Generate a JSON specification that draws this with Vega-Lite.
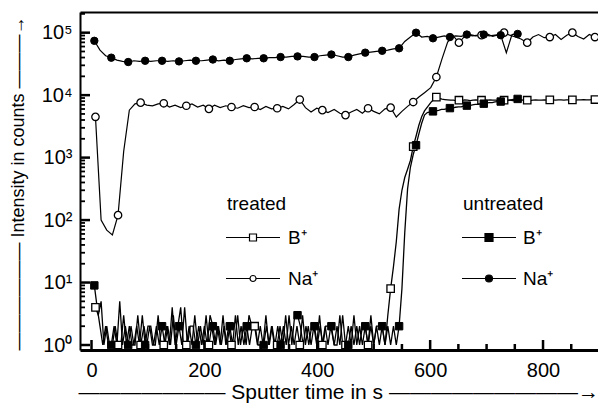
{
"$schema": "https://vega.github.io/schema/vega-lite/v6.json",
"width": 518, "height": 338, "autosize": "none",
"padding": {"left": 80, "top": 12, "right": 0, "bottom": 53},
"background": "white",
"config": {"view": {"stroke": null}, "font": "Liberation Sans",
 "legend": {"orient": "none", "padding": 0, "titleFontSize": 19, "titleFontWeight": "normal", "titleColor": "black", "titleFont": "Liberation Sans", "titlePadding": 14, "labelFontSize": 19, "labelFont": "Liberation Sans", "labelColor": "black", "symbolSize": 100, "symbolStrokeWidth": 1.2, "symbolStrokeColor": "black"}},
"datasets": {
"xMajor": [{"t":0},{"t":200},{"t":400},{"t":600},{"t":800}],
"xMinor": [{"t":50},{"t":100},{"t":150},{"t":250},{"t":300},{"t":350},{"t":450},{"t":500},{"t":550},{"t":650},{"t":700},{"t":750},{"t":850}],
"yMajor": [{"v":1},{"v":10},{"v":100},{"v":1000},{"v":10000},{"v":100000}],
"yMinor": [{"v":2},{"v":3},{"v":4},{"v":5},{"v":6},{"v":7},{"v":8},{"v":9},{"v":20},{"v":30},{"v":40},{"v":50},{"v":60},{"v":70},{"v":80},{"v":90},{"v":200},{"v":300},{"v":400},{"v":500},{"v":600},{"v":700},{"v":800},{"v":900},{"v":2000},{"v":3000},{"v":4000},{"v":5000},{"v":6000},{"v":7000},{"v":8000},{"v":9000},{"v":20000},{"v":30000},{"v":40000},{"v":50000},{"v":60000},{"v":70000},{"v":80000},{"v":90000},{"v":200000}],
"tNa": [{"t":7,"v":4500},{"t":17,"v":100},{"t":27,"v":69},{"t":37,"v":58},{"t":47,"v":120},{"t":57,"v":1260},{"t":67,"v":5750},{"t":77,"v":7240},{"t":87,"v":7590},{"t":98,"v":6920},{"t":108,"v":6760},{"t":118,"v":7240},{"t":128,"v":7410},{"t":138,"v":6460},{"t":148,"v":6920},{"t":158,"v":6310},{"t":168,"v":6760},{"t":178,"v":7240},{"t":188,"v":6460},{"t":198,"v":6920},{"t":208,"v":6030},{"t":218,"v":6920},{"t":228,"v":6310},{"t":238,"v":6760},{"t":248,"v":6460},{"t":259,"v":6170},{"t":269,"v":6760},{"t":279,"v":6310},{"t":289,"v":6460},{"t":299,"v":5890},{"t":309,"v":6610},{"t":319,"v":6030},{"t":329,"v":6170},{"t":339,"v":6610},{"t":349,"v":6030},{"t":359,"v":7080},{"t":369,"v":8510},{"t":379,"v":6310},{"t":389,"v":5370},{"t":399,"v":6170},{"t":409,"v":5750},{"t":419,"v":5250},{"t":430,"v":5890},{"t":440,"v":5130},{"t":450,"v":4790},{"t":460,"v":5370},{"t":470,"v":5890},{"t":480,"v":5130},{"t":490,"v":6170},{"t":500,"v":5500},{"t":510,"v":5010},{"t":520,"v":6030},{"t":530,"v":6310},{"t":540,"v":4470},{"t":550,"v":5500},{"t":560,"v":6610},{"t":570,"v":7760},{"t":580,"v":9330},{"t":590,"v":10960},{"t":601,"v":13180},{"t":611,"v":19500},{"t":621,"v":38000},{"t":631,"v":70800},{"t":641,"v":89100},{"t":651,"v":69200},{"t":661,"v":87100},{"t":671,"v":93300},{"t":681,"v":89100},{"t":691,"v":91200},{"t":701,"v":95500},{"t":711,"v":87100},{"t":721,"v":93300},{"t":731,"v":100000},{"t":741,"v":91200},{"t":751,"v":85100},{"t":761,"v":79400},{"t":772,"v":69200},{"t":782,"v":85100},{"t":792,"v":93300},{"t":802,"v":83200},{"t":812,"v":85100},{"t":822,"v":93300},{"t":832,"v":77600},{"t":842,"v":91200},{"t":852,"v":100000},{"t":862,"v":87100},{"t":872,"v":79400},{"t":882,"v":93300},{"t":892,"v":85100},{"t":902,"v":91200}],
"tB": [{"t":7,"v":4},{"t":12,"v":3},{"t":17,"v":5},{"t":22,"v":1},{"t":27,"v":2},{"t":32,"v":1},{"t":37,"v":1},{"t":42,"v":2},{"t":47,"v":1},{"t":52,"v":1},{"t":57,"v":3},{"t":62,"v":1},{"t":67,"v":2},{"t":72,"v":1},{"t":77,"v":1},{"t":82,"v":3},{"t":87,"v":1},{"t":93,"v":2},{"t":98,"v":1},{"t":103,"v":2},{"t":108,"v":1},{"t":113,"v":1},{"t":118,"v":3},{"t":123,"v":1},{"t":128,"v":1},{"t":133,"v":2},{"t":138,"v":1},{"t":143,"v":4},{"t":148,"v":1},{"t":153,"v":2},{"t":158,"v":4},{"t":163,"v":1},{"t":168,"v":1},{"t":173,"v":2},{"t":178,"v":1},{"t":183,"v":3},{"t":188,"v":1},{"t":193,"v":2},{"t":198,"v":1},{"t":203,"v":3},{"t":208,"v":1},{"t":213,"v":2},{"t":218,"v":1},{"t":223,"v":2},{"t":228,"v":1},{"t":233,"v":3},{"t":238,"v":1},{"t":243,"v":2},{"t":248,"v":1},{"t":253,"v":1},{"t":259,"v":3},{"t":264,"v":1},{"t":269,"v":2},{"t":274,"v":1},{"t":279,"v":3},{"t":284,"v":2},{"t":289,"v":2},{"t":294,"v":1},{"t":299,"v":2},{"t":304,"v":1},{"t":309,"v":3},{"t":314,"v":1},{"t":319,"v":2},{"t":324,"v":1},{"t":329,"v":1},{"t":334,"v":2},{"t":339,"v":1},{"t":344,"v":3},{"t":349,"v":1},{"t":354,"v":2},{"t":359,"v":1},{"t":364,"v":2},{"t":369,"v":1},{"t":374,"v":3},{"t":379,"v":1},{"t":384,"v":2},{"t":389,"v":1},{"t":394,"v":2},{"t":399,"v":1},{"t":404,"v":3},{"t":409,"v":1},{"t":414,"v":2},{"t":419,"v":1},{"t":424,"v":2},{"t":430,"v":1},{"t":435,"v":1},{"t":440,"v":3},{"t":445,"v":1},{"t":450,"v":1},{"t":455,"v":2},{"t":460,"v":1},{"t":465,"v":3},{"t":470,"v":1},{"t":475,"v":2},{"t":480,"v":1},{"t":485,"v":2},{"t":490,"v":1},{"t":495,"v":3},{"t":500,"v":1},{"t":505,"v":2},{"t":510,"v":1},{"t":515,"v":2},{"t":520,"v":1},{"t":525,"v":3},{"t":530,"v":8},{"t":535,"v":18},{"t":540,"v":45},{"t":545,"v":150},{"t":550,"v":300},{"t":555,"v":480},{"t":560,"v":650},{"t":565,"v":900},{"t":570,"v":1500},{"t":575,"v":2200},{"t":580,"v":3300},{"t":585,"v":4500},{"t":590,"v":5600},{"t":596,"v":6600},{"t":601,"v":7600},{"t":606,"v":8500},{"t":611,"v":9300},{"t":616,"v":8900},{"t":621,"v":8600},{"t":626,"v":8500},{"t":631,"v":8400},{"t":636,"v":8300},{"t":641,"v":8300},{"t":646,"v":8200},{"t":651,"v":8300},{"t":656,"v":8200},{"t":661,"v":8400},{"t":666,"v":8300},{"t":671,"v":8200},{"t":676,"v":8300},{"t":681,"v":8400},{"t":686,"v":8300},{"t":691,"v":8300},{"t":696,"v":8200},{"t":701,"v":8300},{"t":706,"v":8400},{"t":711,"v":8300},{"t":716,"v":8300},{"t":721,"v":8200},{"t":726,"v":8300},{"t":731,"v":8300},{"t":736,"v":8400},{"t":741,"v":8300},{"t":746,"v":8200},{"t":751,"v":8300},{"t":756,"v":8300},{"t":761,"v":8400},{"t":767,"v":8300},{"t":772,"v":8300},{"t":777,"v":8200},{"t":782,"v":8300},{"t":787,"v":8400},{"t":792,"v":8300},{"t":797,"v":8300},{"t":802,"v":8400},{"t":807,"v":8300},{"t":812,"v":8400},{"t":817,"v":8400},{"t":822,"v":8300},{"t":827,"v":8400},{"t":832,"v":8400},{"t":837,"v":8300},{"t":842,"v":8400},{"t":847,"v":8400},{"t":852,"v":8400},{"t":857,"v":8300},{"t":862,"v":8400},{"t":867,"v":8400},{"t":872,"v":8500},{"t":877,"v":8400},{"t":882,"v":8400},{"t":887,"v":8500},{"t":892,"v":8500},{"t":897,"v":8400},{"t":902,"v":8500}],
"uNa": [{"t":5,"v":74100},{"t":15,"v":52500},{"t":25,"v":42700},{"t":35,"v":39800},{"t":45,"v":36300},{"t":55,"v":34700},{"t":65,"v":33900},{"t":75,"v":35500},{"t":85,"v":34700},{"t":95,"v":35500},{"t":105,"v":34700},{"t":115,"v":35500},{"t":125,"v":35500},{"t":135,"v":34700},{"t":145,"v":35500},{"t":155,"v":34700},{"t":165,"v":35500},{"t":175,"v":36300},{"t":185,"v":35500},{"t":195,"v":35500},{"t":205,"v":36300},{"t":215,"v":37200},{"t":225,"v":35500},{"t":235,"v":36300},{"t":245,"v":35500},{"t":255,"v":37200},{"t":265,"v":38000},{"t":275,"v":38900},{"t":285,"v":38000},{"t":295,"v":38900},{"t":305,"v":38900},{"t":315,"v":39800},{"t":325,"v":39800},{"t":335,"v":40700},{"t":345,"v":40700},{"t":355,"v":41700},{"t":365,"v":41700},{"t":375,"v":41700},{"t":385,"v":40700},{"t":395,"v":40700},{"t":405,"v":42700},{"t":415,"v":43700},{"t":425,"v":44700},{"t":435,"v":42700},{"t":445,"v":40700},{"t":455,"v":40700},{"t":465,"v":43700},{"t":475,"v":45700},{"t":485,"v":47900},{"t":495,"v":49000},{"t":505,"v":50100},{"t":515,"v":51300},{"t":525,"v":52500},{"t":535,"v":55000},{"t":545,"v":56200},{"t":555,"v":72400},{"t":565,"v":85100},{"t":575,"v":100000},{"t":585,"v":85100},{"t":595,"v":87100},{"t":605,"v":81300},{"t":615,"v":85100},{"t":625,"v":89100},{"t":635,"v":85100},{"t":645,"v":89100},{"t":655,"v":87100},{"t":665,"v":93300},{"t":675,"v":89100},{"t":685,"v":91200},{"t":695,"v":93300},{"t":705,"v":89100},{"t":715,"v":91200},{"t":725,"v":91200},{"t":735,"v":47900},{"t":745,"v":93300},{"t":755,"v":95500}],
"uB": [{"t":5,"v":9},{"t":10,"v":4},{"t":15,"v":2},{"t":20,"v":1},{"t":25,"v":2},{"t":30,"v":1},{"t":35,"v":1},{"t":40,"v":2},{"t":45,"v":1},{"t":50,"v":5},{"t":55,"v":1},{"t":60,"v":2},{"t":65,"v":1},{"t":70,"v":2},{"t":75,"v":1},{"t":80,"v":2},{"t":85,"v":1},{"t":90,"v":3},{"t":95,"v":1},{"t":100,"v":2},{"t":105,"v":2},{"t":110,"v":1},{"t":115,"v":2},{"t":120,"v":1},{"t":125,"v":2},{"t":130,"v":1},{"t":135,"v":2},{"t":140,"v":1},{"t":145,"v":3},{"t":150,"v":1},{"t":155,"v":2},{"t":160,"v":1},{"t":165,"v":4},{"t":170,"v":1},{"t":175,"v":2},{"t":180,"v":2},{"t":185,"v":1},{"t":190,"v":2},{"t":195,"v":1},{"t":200,"v":2},{"t":205,"v":1},{"t":210,"v":3},{"t":215,"v":2},{"t":220,"v":1},{"t":225,"v":2},{"t":230,"v":1},{"t":235,"v":2},{"t":240,"v":1},{"t":245,"v":2},{"t":250,"v":1},{"t":255,"v":3},{"t":260,"v":1},{"t":265,"v":2},{"t":270,"v":1},{"t":275,"v":2},{"t":280,"v":1},{"t":285,"v":2},{"t":290,"v":2},{"t":295,"v":1},{"t":300,"v":1},{"t":305,"v":1},{"t":310,"v":2},{"t":315,"v":1},{"t":320,"v":2},{"t":325,"v":1},{"t":330,"v":2},{"t":335,"v":1},{"t":340,"v":2},{"t":345,"v":1},{"t":350,"v":3},{"t":355,"v":1},{"t":360,"v":3},{"t":365,"v":3},{"t":370,"v":2},{"t":375,"v":1},{"t":380,"v":2},{"t":385,"v":1},{"t":390,"v":2},{"t":395,"v":2},{"t":400,"v":1},{"t":405,"v":2},{"t":410,"v":1},{"t":415,"v":2},{"t":420,"v":2},{"t":425,"v":2},{"t":430,"v":1},{"t":435,"v":2},{"t":440,"v":1},{"t":445,"v":3},{"t":450,"v":1},{"t":455,"v":1},{"t":460,"v":2},{"t":465,"v":1},{"t":470,"v":2},{"t":475,"v":1},{"t":480,"v":2},{"t":485,"v":2},{"t":490,"v":1},{"t":495,"v":2},{"t":500,"v":1},{"t":505,"v":2},{"t":510,"v":2},{"t":515,"v":2},{"t":520,"v":1},{"t":525,"v":2},{"t":530,"v":1},{"t":535,"v":2},{"t":540,"v":1},{"t":545,"v":2},{"t":550,"v":8},{"t":555,"v":63},{"t":560,"v":316},{"t":565,"v":700},{"t":570,"v":1120},{"t":575,"v":1580},{"t":580,"v":2400},{"t":585,"v":3550},{"t":590,"v":4800},{"t":595,"v":5250},{"t":600,"v":5400},{"t":605,"v":5500},{"t":610,"v":5600},{"t":615,"v":5700},{"t":620,"v":5900},{"t":625,"v":5900},{"t":630,"v":6100},{"t":635,"v":6200},{"t":640,"v":6200},{"t":645,"v":6400},{"t":650,"v":6500},{"t":655,"v":6500},{"t":660,"v":6700},{"t":665,"v":6800},{"t":670,"v":6800},{"t":675,"v":7000},{"t":680,"v":7100},{"t":685,"v":7100},{"t":690,"v":7300},{"t":695,"v":7300},{"t":700,"v":7500},{"t":705,"v":7600},{"t":710,"v":7600},{"t":715,"v":7800},{"t":720,"v":7900},{"t":725,"v":7900},{"t":730,"v":8100},{"t":735,"v":8200},{"t":740,"v":8300},{"t":745,"v":8500},{"t":750,"v":8600},{"t":755,"v":8700}]
},
"layer": [
{"data": {"name": "tNa"}, "mark": {"type": "line", "color": "black", "strokeWidth": 1.2, "clip": true},
 "encoding": {
  "x": {"field": "t", "type": "quantitative", "scale": {"domain": [-20.4, 897.4], "nice": false, "zero": false},
   "axis": {"orient": "bottom", "values": [0,200,400,600,800], "ticks": false, "grid": false, "domain": false,
    "labelFontSize": 20, "labelColor": "black", "labelFont": "Liberation Sans", "labelPadding": 10, "labelOverlap": false,
    "title": "——————— Sputter time in s —————————→", "titleFontSize": 21, "titleFontWeight": "normal", "titleColor": "black", "titleFont": "Liberation Sans",
    "titleAnchor": "start", "titleAlign": "left", "titleX": -2, "titleY": 42, "titleBaseline": "middle"}},
  "y": {"field": "v", "type": "quantitative", "scale": {"type": "log", "domain": [0.832, 214300], "nice": false},
   "axis": {"orient": "left", "values": [1,10,100,1000,10000,100000], "ticks": false, "grid": false, "domain": false,
    "labelExpr": "'10' + ['⁰','¹','²','³','⁴','⁵'][round(log(datum.value)/LN10)]",
    "labelFontSize": 20, "labelColor": "black", "labelFont": "Liberation Sans", "labelPadding": 8, "labelOverlap": false,
    "title": "—————— Intensity in counts ———→", "titleFontSize": 18, "titleFontWeight": "normal", "titleColor": "black", "titleFont": "Liberation Sans",
    "titleAngle": 270, "titleAnchor": "start", "titleAlign": "left", "titleX": -62, "titleY": 338, "titleBaseline": "middle"}}}},
{"data": {"name": "tB"}, "mark": {"type": "line", "color": "black", "strokeWidth": 1.3, "clip": true},
 "encoding": {
  "x": {"field": "t", "type": "quantitative", "scale": {"domain": [-20.4, 897.4], "nice": false, "zero": false}, "axis": null},
  "y": {"field": "v", "type": "quantitative", "scale": {"type": "log", "domain": [0.832, 214300], "nice": false}, "axis": null}}},
{"data": {"name": "uNa"}, "mark": {"type": "line", "color": "black", "strokeWidth": 1.2, "clip": true},
 "encoding": {
  "x": {"field": "t", "type": "quantitative", "scale": {"domain": [-20.4, 897.4], "nice": false, "zero": false},
   "axis": {"orient": "top", "labels": false, "ticks": false, "domain": true, "domainColor": "black", "domainWidth": 2, "grid": false, "title": null}},
  "y": {"field": "v", "type": "quantitative", "scale": {"type": "log", "domain": [0.832, 214300], "nice": false},
   "axis": {"orient": "left", "labels": false, "ticks": false, "domain": true, "domainColor": "black", "domainWidth": 2, "grid": false, "title": null}}}},
{"data": {"name": "uB"}, "mark": {"type": "line", "color": "black", "strokeWidth": 1.3, "clip": true},
 "encoding": {
  "x": {"field": "t", "type": "quantitative", "scale": {"domain": [-20.4, 897.4], "nice": false, "zero": false},
   "axis": {"orient": "bottom", "labels": false, "ticks": false, "domain": true, "domainColor": "black", "domainWidth": 3, "grid": false, "title": null}},
  "y": {"field": "v", "type": "quantitative", "scale": {"type": "log", "domain": [0.832, 214300], "nice": false}, "axis": null}}},
{"data": {"name": "xMajor"}, "mark": {"type": "rule", "color": "black", "strokeWidth": 2.5, "clip": true},
 "encoding": {
  "x": {"field": "t", "type": "quantitative", "scale": {"domain": [-20.4, 897.4], "nice": false, "zero": false}, "axis": null},
  "y": {"datum": 0.832, "type": "quantitative", "scale": {"type": "log", "domain": [0.832, 214300], "nice": false}, "axis": null},
  "y2": {"datum": 1.203}}},
{"data": {"name": "xMinor"}, "mark": {"type": "rule", "color": "black", "strokeWidth": 2.5, "clip": true},
 "encoding": {
  "x": {"field": "t", "type": "quantitative", "scale": {"domain": [-20.4, 897.4], "nice": false, "zero": false}, "axis": null},
  "y": {"datum": 0.832, "type": "quantitative", "scale": {"type": "log", "domain": [0.832, 214300], "nice": false}, "axis": null},
  "y2": {"datum": 1.038}}},
{"data": {"name": "yMajor"}, "mark": {"type": "rule", "color": "black", "strokeWidth": 2.5, "clip": true},
 "encoding": {
  "y": {"field": "v", "type": "quantitative", "scale": {"type": "log", "domain": [0.832, 214300], "nice": false}, "axis": null},
  "x": {"datum": -20.4, "type": "quantitative", "scale": {"domain": [-20.4, 897.4], "nice": false, "zero": false}, "axis": null},
  "x2": {"datum": -2.7}}},
{"data": {"name": "yMinor"}, "mark": {"type": "rule", "color": "black", "strokeWidth": 1.8, "clip": true},
 "encoding": {
  "y": {"field": "v", "type": "quantitative", "scale": {"type": "log", "domain": [0.832, 214300], "nice": false}, "axis": null},
  "x": {"datum": -20.4, "type": "quantitative", "scale": {"domain": [-20.4, 897.4], "nice": false, "zero": false}, "axis": null},
  "x2": {"datum": -11.5}}},
{"data": {"name": "tB"}, "transform": [{"window": [{"op": "row_number", "as": "rn"}]}, {"filter": "(datum.rn - 1) % 8 === 0"}],
 "mark": {"type": "point", "shape": "square", "filled": true, "stroke": "black", "strokeWidth": 1.3, "size": 55, "opacity": 1, "clip": true},
 "encoding": {
  "x": {"field": "t", "type": "quantitative", "scale": {"domain": [-20.4, 897.4], "nice": false, "zero": false}, "axis": null},
  "y": {"field": "v", "type": "quantitative", "scale": {"type": "log", "domain": [0.832, 214300], "nice": false}, "axis": null},
  "fill": {"datum": "B⁺", "type": "nominal", "scale": {"domain": ["B⁺"], "range": ["white"]},
   "legend": {"title": "treated", "legendX": 147, "legendY": 183, "symbolOffset": 16.5, "labelOffset": 25.5,
    "symbolType": "M-5.4,0H-0.7M0.7,0H5.4M-0.7,-0.7H0.7V0.7H-0.7Z"}}}},
{"data": {"name": "tNa"}, "transform": [{"window": [{"op": "row_number", "as": "rn"}]}, {"filter": "(datum.rn - 1) % 4 === 0"}],
 "mark": {"type": "point", "shape": "circle", "filled": true, "stroke": "black", "strokeWidth": 1.3, "size": 55, "opacity": 1, "clip": true},
 "encoding": {
  "x": {"field": "t", "type": "quantitative", "scale": {"domain": [-20.4, 897.4], "nice": false, "zero": false}, "axis": null},
  "y": {"field": "v", "type": "quantitative", "scale": {"type": "log", "domain": [0.832, 214300], "nice": false}, "axis": null},
  "fill": {"datum": "Na⁺", "type": "nominal", "scale": {"domain": ["Na⁺"], "range": ["white"]},
   "legend": {"title": null, "legendX": 147, "legendY": 257, "symbolOffset": 16.5, "labelOffset": 25.5,
    "symbolType": "M-5.4,0H-0.6M0.6,0H5.4M-0.6,0A0.6,0.6,0,1,1,0.6,0A0.6,0.6,0,1,1,-0.6,0Z"}}}},
{"data": {"name": "uB"}, "transform": [{"window": [{"op": "row_number", "as": "rn"}]}, {"filter": "(datum.rn - 1) % 6 === 0"}],
 "mark": {"type": "point", "shape": "square", "filled": true, "stroke": "black", "strokeWidth": 1, "size": 55, "opacity": 1, "clip": true},
 "encoding": {
  "x": {"field": "t", "type": "quantitative", "scale": {"domain": [-20.4, 897.4], "nice": false, "zero": false}, "axis": null},
  "y": {"field": "v", "type": "quantitative", "scale": {"type": "log", "domain": [0.832, 214300], "nice": false}, "axis": null},
  "fill": {"datum": "B⁺", "type": "nominal", "scale": {"domain": ["B⁺"], "range": ["black"]},
   "legend": {"title": "untreated", "legendX": 383, "legendY": 183, "symbolOffset": 16.5, "labelOffset": 24.5,
    "symbolType": "M-5.4,0H-0.8M0.8,0H5.4M-0.8,-0.8H0.8V0.8H-0.8Z"}}}},
{"data": {"name": "uNa"}, "transform": [{"window": [{"op": "row_number", "as": "rn"}]}, {"filter": "(datum.rn - 1) % 3 === 0"}],
 "mark": {"type": "point", "shape": "circle", "filled": true, "stroke": "black", "strokeWidth": 1, "size": 55, "opacity": 1, "clip": true},
 "encoding": {
  "x": {"field": "t", "type": "quantitative", "scale": {"domain": [-20.4, 897.4], "nice": false, "zero": false}, "axis": null},
  "y": {"field": "v", "type": "quantitative", "scale": {"type": "log", "domain": [0.832, 214300], "nice": false}, "axis": null},
  "fill": {"datum": "Na⁺", "type": "nominal", "scale": {"domain": ["Na⁺"], "range": ["black"]},
   "legend": {"title": null, "legendX": 383, "legendY": 257, "symbolOffset": 16.5, "labelOffset": 24.5,
    "symbolType": "M-5.4,0H-0.7M0.7,0H5.4M-0.7,0A0.7,0.7,0,1,1,0.7,0A0.7,0.7,0,1,1,-0.7,0Z"}}}}
],
"resolve": {"scale": {"fill": "independent"}, "axis": {"x": "independent", "y": "independent"}}
}
